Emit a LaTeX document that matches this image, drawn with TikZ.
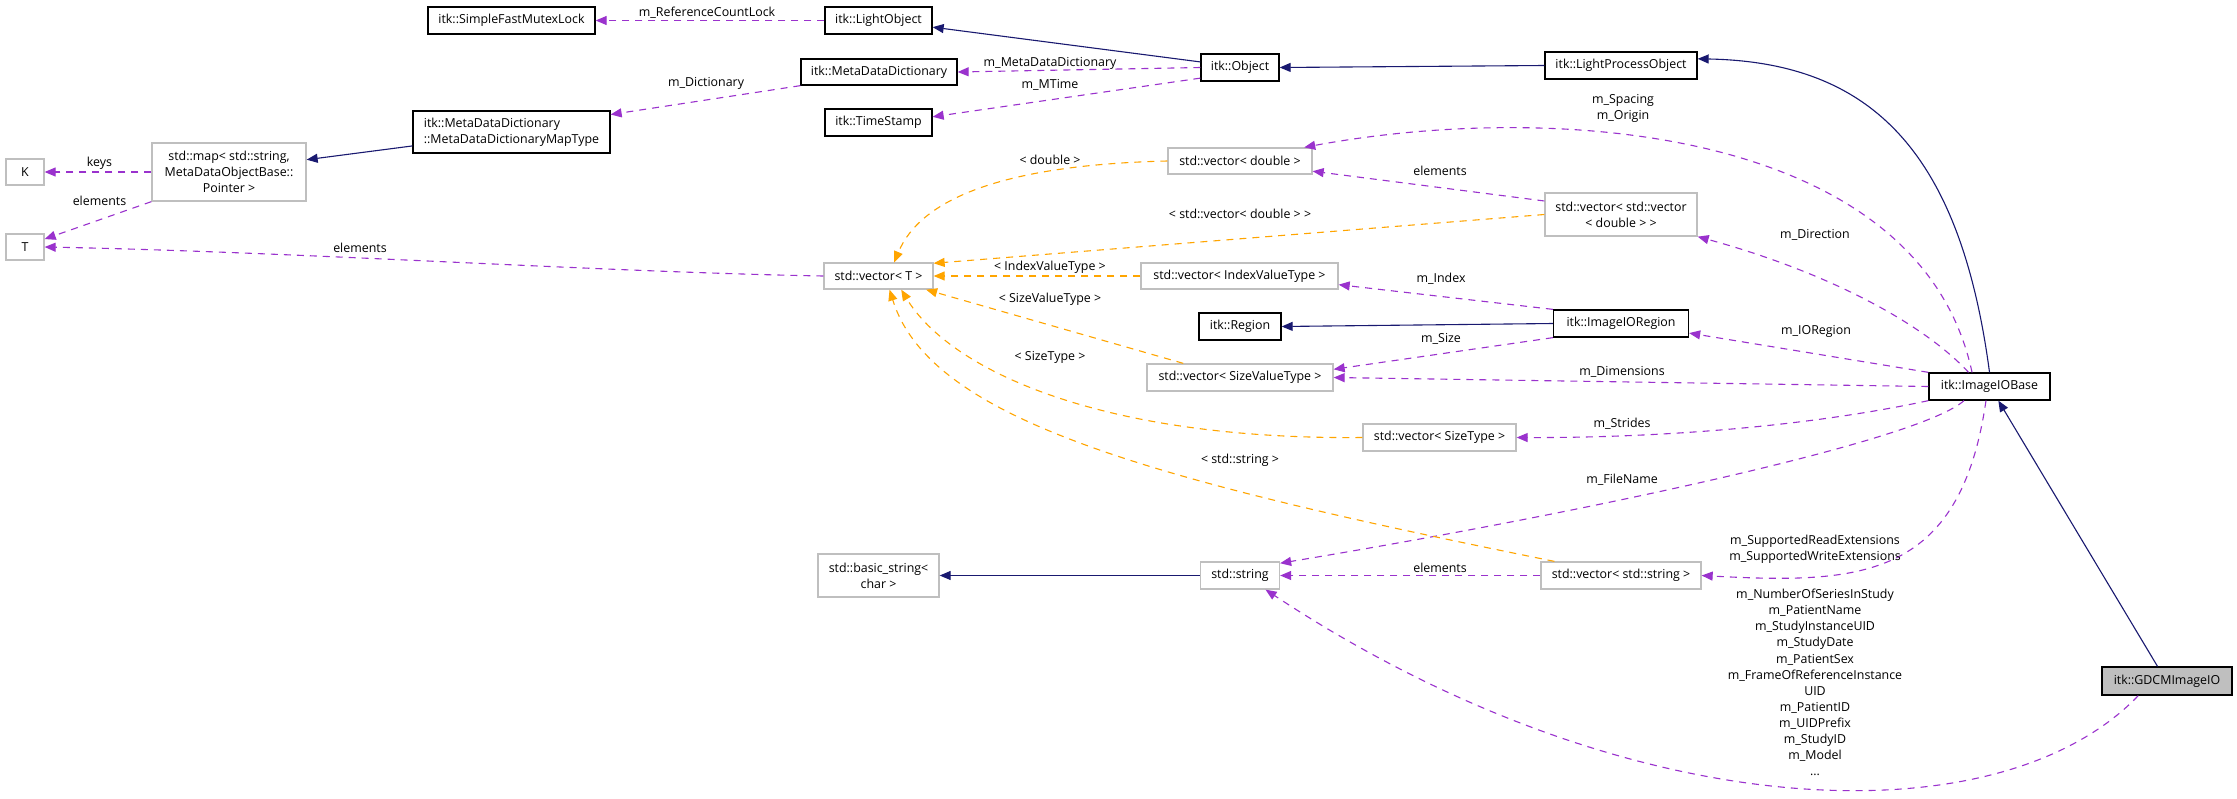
\documentclass[tikz,border=0pt]{standalone}
\usepackage{fontspec}
\setmainfont{Open Sans}
\usetikzlibrary{arrows.meta}
\definecolor{purp}{HTML}{9A32CD}
\definecolor{orng}{HTML}{FFA500}
\definecolor{navyc}{HTML}{191970}
\definecolor{gry}{HTML}{BFBFBF}
\begin{document}
\begin{tikzpicture}[x=1pt,y=-1pt,
  every node/.style={font=\fontsize{12.4}{16.1}\selectfont, inner sep=0pt},
  itk/.style={draw=black, line width=1.3pt, fill=white},
  stdb/.style={draw=gry, line width=1.3pt, fill=white},
  wh/.style 2 args={minimum width=#1pt, minimum height=#2pt},
  tip/.style={-{Triangle[length=11pt,width=9pt]}},
  mem/.style={draw=purp, line width=1.1pt, dash pattern=on 7pt off 6pt, tip},
  tpl/.style={draw=orng, line width=1.1pt, dash pattern=on 7pt off 6pt, tip},
  inh/.style={draw=navyc, line width=1.1pt, tip},
  lbl/.style={text=black}
]
\useasboundingbox[fill=white] (0,0) rectangle (2237,798);
% nodes
\node[itk,wh={167}{27}] (smfl) at (511.5,20.5) {itk::SimpleFastMutexLock};
\node[itk,wh={107}{27}] (lo) at (878.5,20.5) {itk::LightObject};
\node[itk,wh={156}{26}] (mdd) at (879,72) {itk::MetaDataDictionary};
\node[itk,wh={107}{27}] (ts) at (878.5,122.5) {itk::TimeStamp};
\node[itk,wh={78}{27}] (obj) at (1240,67.5) {itk::Object};
\node[itk,wh={152}{27}] (lpo) at (1621,65.5) {itk::LightProcessObject};
\node[itk,wh={197}{42},align=left] (mt) at (511.5,132) {itk::MetaDataDictionary\\::MetaDataDictionaryMapType};
\node[stdb,wh={154}{58},align=center] (map) at (229,172) {std::map< std::string,\\MetaDataObjectBase::\\Pointer >};
\node[stdb,wh={38}{26}] (K) at (25,172) {K};
\node[stdb,wh={38}{26}] (T) at (25,247) {T};
\node[stdb,wh={144}{26}] (vd) at (1240,161) {std::vector< double >};
\node[stdb,wh={152}{43},align=center] (vvd) at (1621,214.5) {std::vector< std::vector\\< double > >};
\node[stdb,wh={109}{26}] (vT) at (878.5,276) {std::vector< T >};
\node[stdb,wh={197}{26}] (vivt) at (1239.5,276) {std::vector< IndexValueType >};
\node[itk,wh={82}{27}] (region) at (1240,326.5) {itk::Region};
\node[itk,wh={135}{27}] (iir) at (1621,323.5) {itk::ImageIORegion};
\node[stdb,wh={186}{27}] (vsvt) at (1240,377.5) {std::vector< SizeValueType >};
\node[stdb,wh={153}{27}] (vst) at (1439.5,437.5) {std::vector< SizeType >};
\node[itk,wh={121}{27}] (iob) at (1989.5,386.5) {itk::ImageIOBase};
\node[stdb,wh={121}{43},align=center] (bs) at (878.5,575.5) {std::basic\_string<\\char >};
\node[stdb,wh={79}{27}] (str) at (1240,575.5) {std::string};
\node[stdb,wh={160}{27}] (vstr) at (1621,575.5) {std::vector< std::string >};
\node[itk,fill=gry,wh={130}{28}] (gdcm) at (2167,681) {itk::GDCMImageIO};
% edges
\draw[mem] (lo.west) -- (smfl.east);
\node[lbl] at (707,13) {m\_ReferenceCountLock};
\draw[inh] (obj.172) -- (lo.-7);
\draw[mem] (obj.west) -- (mdd.east);
\node[lbl] at (1050,63) {m\_MetaDataDictionary};
\draw[mem] (obj.195) -- (ts.6);
\node[lbl] at (1050,85) {m\_MTime};
\draw[inh] (lpo.west) -- (obj.east);
\draw[inh] (iob.north) .. controls (1960,150) and (1870,62) .. (lpo.5);
\draw[inh] (mt.188) -- (map.9);
\draw[mem] (mdd.south west) -- (mt.10);
\node[lbl] at (706,83) {m\_Dictionary};
\draw[mem] (map.west) -- (K.east);
\node[lbl] at (99.5,163) {keys};
\draw[mem] (map.south west) -- (T.22);
\node[lbl] at (99.5,201) {elements};
\draw[mem] (vT.west) .. controls (600,272) and (300,252) .. (T.east);
\node[lbl] at (360,248) {elements};
\draw[tpl] (vd.west) .. controls (1000,165) and (920,200) .. (vT.41);
\node[lbl] at (1050,160) {< double >};
\draw[tpl] (vvd.west) -- (vT.13);
\node[lbl] at (1240,214) {< std::vector< double > >};
\draw[mem] (vvd.170.7) -- (vd.-8.7);
\node[lbl] at (1440,171) {elements};
\draw[mem] (iob.141) .. controls (1920,130) and (1560,100) .. (vd.12.6);
\node[lbl,align=center] at (1623,108) {m\_Spacing\\m\_Origin};
\draw[mem] (iob.146) .. controls (1920,320) and (1820,270) .. (vvd.south east);
\node[lbl] at (1815,235) {m\_Direction};
\draw[mem] (iob.north west) -- (iir.-8.8);
\node[lbl] at (1816,331) {m\_IORegion};
\draw[mem] (iir.north west) -- (vivt.-5.2);
\node[lbl] at (1441,279) {m\_Index};
\draw[inh] (iir.west) -- (region.east);
\draw[mem] (iir.south west) -- (vsvt.5.8);
\node[lbl] at (1441,339) {m\_Size};
\draw[mem] (iob.west) -- (vsvt.east);
\node[lbl] at (1622,372) {m\_Dimensions};
\draw[mem] (iob.south west) .. controls (1800,428) and (1650,438) .. (vst.east);
\node[lbl] at (1622,424) {m\_Strides};
\draw[mem] (iob.-151) .. controls (1920,440) and (1600,510) .. (str.17);
\node[lbl] at (1622,480) {m\_FileName};
\draw[mem] (iob.-104) .. controls (1960,580) and (1860,584) .. (vstr.east);
\node[lbl,align=center] at (1815,549) {m\_SupportedReadExtensions\\m\_SupportedWriteExtensions};
\draw[mem] (vstr.west) -- (str.east);
\node[lbl] at (1440,568) {elements};
\draw[tpl] (vstr.168) .. controls (1150,480) and (930,420) .. (vT.-51);
\node[lbl] at (1240,460) {< std::string >};
\draw[tpl] (vst.west) .. controls (1100,440) and (950,370) .. (vT.-31);
\node[lbl] at (1050,357) {< SizeType >};
\draw[tpl] (vsvt.166) -- (vT.-16.6);
\node[lbl] at (1050,299) {< SizeValueType >};
\draw[tpl] (vivt.west) -- (vT.east);
\node[lbl] at (1050,267) {< IndexValueType >};
\draw[inh] (str.west) -- (bs.east);
\draw[inh] (gdcm.123) -- (iob.-58);
\draw[mem] (gdcm.-153) .. controls (2000,840) and (1630,830) .. (str.-29);
\node[lbl,align=center,anchor=north] at (1815,589) {m\_NumberOfSeriesInStudy\\m\_PatientName\\m\_StudyInstanceUID\\m\_StudyDate\\m\_PatientSex\\m\_FrameOfReferenceInstance\\UID\\m\_PatientID\\m\_UIDPrefix\\m\_StudyID\\m\_Model\\...};
\end{tikzpicture}
\end{document}
